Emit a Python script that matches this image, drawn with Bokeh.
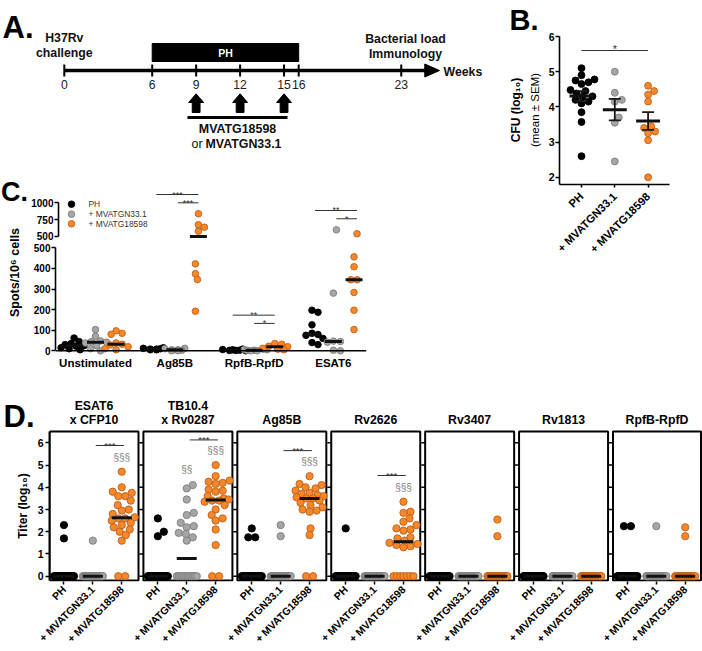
import math
from collections import Counter
import numpy as np
from bokeh.plotting import figure
from bokeh.layouts import row, column
from bokeh.models import Range1d, FixedTicker, LinearAxis, Span
from bokeh.core.properties import value
from bokeh.embed import file_html
from bokeh.resources import INLINE

# ======================= DATA =======================
# Panel A: study timeline (weeks)
weeks = [0, 6, 9, 12, 15, 16, 23]
ph_period = [6, 16]
boost_weeks = [9, 12, 15]

# Panel B: lung CFU (log10)
b_groups = ["PH", "+ MVATGN33.1", "+ MVATG18598"]
b_ph = [5.1, 4.9, 4.78, 4.75, 4.7, 4.65, 4.48, 4.45, 4.38, 4.3, 4.28, 4.2, 4.15, 4.1, 3.85, 3.57, 2.6]
b_gn = [5.0, 4.4, 4.2, 4.15, 3.7, 3.55, 2.45]
b_tg = [4.6, 4.45, 4.35, 4.15, 3.45, 3.4, 3.3, 3.25, 3.05, 2.0]
b_sig = "*"

# Panel C: ELISpot spots / 10^6 cells
c_cats = ["Unstimulated", "Ag85B", "RpfB-RpfD", "ESAT6"]
c_legend = ["PH", "+ MVATGN33.1", "+ MVATG18598"]
c_ph = [[62, 45, 35, 30, 25, 22, 15, 10, 5],
        [15, 12, 10, 8, 8, 5, 5],
        [8, 6, 5, 3, 2, 2, 0],
        [197, 187, 126, 85, 79, 75, 60, 40, 30]]
c_gn = [[103, 70, 48, 45, 42, 38, 25, 10, 0],
        [12, 10, 5, 5, 3, 0, 0],
        [8, 6, 5, 3, 2, 0, 0],
        [599, 280, 47, 45, 42, 3, 0]]
c_tg = [[97, 85, 80, 38, 32, 28, 20, 10, 5],
        [837, 674, 638, 579, 422, 374, 346, 192],
        [35, 32, 22, 20, 12, 8, 5],
        [540, 456, 408, 345, 345, 283, 197, 103]]
c_brackets = [("Ag85B", 0, 2, "***"), ("Ag85B", 1, 2, "***"),
              ("RpfB-RpfD", 0, 2, "**"), ("RpfB-RpfD", 1, 2, "*"),
              ("ESAT6", 0, 2, "**"), ("ESAT6", 1, 2, "*")]
c_bracket_y = [1123, 1000, 173, 133, 886, 763]

# Panel D: antibody titers (log10); detectable values + number of animals at 0
d_titles = [["ESAT6", "x CFP10"], ["TB10.4", "x Rv0287"], ["Ag85B"], ["Rv2626"],
            ["Rv3407"], ["Rv1813"], ["RpfB-RpfD"]]
d_groups = ["PH", "+ MVATGN33.1", "+ MVATG18598"]
d_ph_pos = [[2.3, 1.7], [2.6, 2.0, 1.8], [2.15, 1.75, 1.75], [2.15], [], [], [2.25, 2.25]]
d_ph_zero = [22, 21, 21, 23, 24, 24, 22]
d_gn_pos = [[1.6],
            [4.1, 3.95, 3.45, 2.85, 2.75, 2.4, 2.25, 2.2, 1.95, 1.9, 1.75, 1.6],
            [2.3, 1.8], [], [], [], [2.25]]
d_gn_zero = [23, 12, 22, 24, 24, 24, 23]
d_tg_pos = [[4.7, 4.0, 3.8, 3.75, 3.6, 3.6, 3.4, 3.2, 3.0, 2.95, 2.8, 2.65, 2.6, 2.6, 2.5, 2.4, 2.3, 2.2, 2.1, 2.0, 1.85, 1.6],
            [5.0, 4.5, 4.3, 4.25, 4.2, 4.15, 3.9, 3.85, 3.8, 3.6, 3.5, 3.45, 3.4, 3.4, 3.35, 3.2, 3.0, 2.75, 2.6, 2.5, 2.1, 1.4],
            [4.5, 4.15, 4.1, 4.0, 3.95, 3.85, 3.75, 3.7, 3.65, 3.6, 3.55, 3.5, 3.5, 3.4, 3.3, 3.2, 3.1, 3.0, 2.95, 2.9, 2.15, 1.85],
            [3.35, 2.9, 2.85, 2.6, 2.45, 2.3, 2.15, 2.1, 2.05, 1.75, 1.7, 1.6, 1.5, 1.45, 1.4, 1.35, 1.3],
            [2.55, 1.8], [], [2.2, 1.8]]
d_tg_zero = [2, 2, 2, 7, 22, 24, 22]
d_brackets = [(0, "***", 5.88), (1, "***", 6.13), (2, "***", 5.65), (3, "***", 4.53)]
d_sections = [(0, 2, "§§§", 5.33), (1, 1, "§§", 4.79), (1, 2, "§§§", 5.65),
              (2, 2, "§§§", 5.16), (3, 2, "§§§", 4.0)]

# ======================= HELPERS =======================
FONT = "Liberation Sans"
F = value(FONT)
COL = {"ph": ("#000000", "#000000"), "gn": ("#A6A6A6", "#7E7E7E"), "tg": ("#F5882A", "#C25F18")}
KEYS = ["ph", "gn", "tg"]
SIGC = "#333333"


def new_fig(**kw):
    p = figure(output_backend="svg", toolbar_location=None, **kw)
    p.grid.visible = False
    p.outline_line_color = None
    p.background_fill_color = "white"
    p.border_fill_color = "white"
    try:
        p.frame_align = False
    except Exception:
        pass
    return p


def style_axis(ax, size=10.5):
    ax.axis_line_color = "black"
    ax.axis_line_width = 1.6
    ax.major_tick_line_color = "black"
    ax.major_tick_line_width = 1.5
    ax.minor_tick_line_color = None
    ax.major_tick_out = 4
    ax.major_tick_in = 0
    ax.major_label_text_font = FONT
    ax.major_label_text_font_style = "bold"
    ax.major_label_text_font_size = f"{size}px"
    ax.major_label_text_color = "black"
    ax.major_label_standoff = 2
    ax.axis_label_text_font = FONT
    ax.axis_label_text_font_style = "bold"
    ax.axis_label_text_color = "black"


def txt(p, x, y, s, size, bold=False, align="center", baseline="middle", color="#111111", angle=0.0):
    p.text(x=[x], y=[y], text=[s], text_font=F, text_font_size=f"{size}px",
           text_font_style="bold" if bold else "normal", text_align=align,
           text_baseline=baseline, text_color=color, angle=angle)


def swarm(ypx, d, tie_w, maxw):
    """deterministic beeswarm offsets (pixels) for points at pixel heights ypx"""
    n = len(ypx)
    offs = [0.0] * n
    cnt = Counter(ypx)
    placed = []
    for v, c in cnt.items():
        if c >= 2:
            idx = [i for i in range(n) if ypx[i] == v]
            if c >= 5:
                xs = np.linspace(-tie_w, tie_w, c)
            else:
                xs = [(k - (c - 1) / 2) * d * 0.95 for k in range(c)]
            for i, xo in zip(idx, xs):
                offs[i] = float(xo)
                placed.append((float(xo), v))
    cands = [0.0]
    k = 1
    while k <= maxw:
        cands += [float(k), float(-k)]
        k += 1
    order = sorted([i for i in range(n) if cnt[ypx[i]] < 2], key=lambda i: ypx[i])
    for i in order:
        y = ypx[i]
        choice = None
        for c in cands:
            if all((c - px) ** 2 + (y - py) ** 2 >= (0.92 * d) ** 2 for px, py in placed):
                choice = c
                break
        if choice is None:
            choice = max(cands, key=lambda c: min([(c - px) ** 2 + (y - py) ** 2 for px, py in placed] or [1e9]))
        offs[i] = choice
        placed.append((choice, y))
    return offs


def dots(p, xs, ys, key, size):
    f, l = COL[key]
    return p.scatter(x=xs, y=ys, marker="circle", size=size, fill_color=f, line_color=l, line_width=0.9)


# ======================= PANEL A =======================
A_X0, A_SL = 63.8, 14.65


def wk(xref):
    return (xref - A_X0) / A_SL


pA = new_fig(width=500, height=165, x_range=Range1d(wk(0), wk(500)), y_range=Range1d(165, 0),
             min_border=0, x_axis_location=None, y_axis_location=None)
txt(pA, wk(2), 27, "A.", 31, bold=True, align="left", baseline="alphabetic", color="black")
line_end = wk(425)
pA.segment(x0=[weeks[0]], y0=[70], x1=[line_end], y1=[70], line_width=3.6, line_color="black")
pA.patch(x=[line_end - 0.05, line_end - 0.05, wk(439)], y=[63.5, 76.5, 70], fill_color="black", line_color="black")
pA.segment(x0=weeks, x1=weeks, y0=[64] * len(weeks), y1=[76] * len(weeks), line_width=2, line_color="black")
pA.text(x=weeks, y=[84] * len(weeks), text=[str(w) for w in weeks], text_font=F, text_font_size="12.2px",
        text_align="center", text_baseline="middle", text_color="#222222")
pA.quad(left=[ph_period[0]], right=[ph_period[1]], top=[43], bottom=[61], fill_color="black", line_color="black")
txt(pA, (ph_period[0] + ph_period[1]) / 2, 52.5, "PH", 10.5, bold=True, color="white")
txt(pA, weeks[0], 37, "H37Rv", 12.3, bold=True)
txt(pA, weeks[0], 52, "challenge", 12.3, bold=True)
txt(pA, wk(405), 38, "Bacterial load", 12.3, bold=True)
txt(pA, wk(405), 53, "Immunology", 12.3, bold=True)
txt(pA, wk(443), 71, "Weeks", 12.3, bold=True, align="left")
hh, hs = 7.5 / A_SL, 3.9 / A_SL
pA.patches(xs=[[w - hs, w - hs, w - hh, w, w + hh, w + hs, w + hs] for w in boost_weeks],
           ys=[[112, 102, 102, 93.3, 102, 102, 112] for w in boost_weeks],
           fill_color="black", line_color="black")
pA.segment(x0=[wk(187)], x1=[wk(287)], y0=[117], y1=[117], line_width=3, line_color="black")
txt(pA, wk(237), 128, "MVATG18598", 12.4, bold=True)
txt(pA, wk(191), 143.5, "or", 12.4, align="left")
txt(pA, wk(205), 143.5, "MVATGN33.1", 12.4, bold=True, align="left")

# ======================= PANEL B =======================
B_PX, B_PY = 33.3, 35.2


def bx(xref):
    return (xref - 577.7) / B_PX


def by(yref):
    return 6 - (yref - 36) / B_PY


pB = new_fig(frame_width=110, frame_height=149, min_border_left=56, min_border_right=36,
             min_border_top=35, min_border_bottom=196,
             x_range=Range1d(bx(555.7), bx(665.7)), y_range=Range1d(by(184), by(35)))
pB.title.text = "B."
pB.title.align = "left"
pB.title.offset = -50
pB.title.standoff = 0
pB.title.text_font = FONT
pB.title.text_font_size = "29px"
pB.title.text_font_style = "bold"
pB.title.text_color = "black"

xa = pB.xaxis[0]
style_axis(xa, 11.2)
xa.ticker = FixedTicker(ticks=[0, 1, 2])
xa.major_label_overrides = {i: g for i, g in enumerate(b_groups)}
xa.major_label_orientation = math.pi / 4
xa.major_tick_out = 3
xa.major_label_standoff = 7
ya = pB.yaxis[0]
style_axis(ya, 10.5)
ya.ticker = FixedTicker(ticks=[2, 3, 4, 5, 6])
ya.bounds = (by(184), 6)
ya.major_label_standoff = 1
ya.axis_label = "(mean ± SEM)"
ya.axis_label_text_font_style = "normal"
ya.axis_label_text_font_size = "11.5px"
ya.axis_label_standoff = 5
ya2 = LinearAxis(ticker=FixedTicker(ticks=[]), axis_label="CFU (log₁₀)")
style_axis(ya2, 10.5)
ya2.axis_line_color = None
ya2.major_tick_line_color = None
ya2.major_label_standoff = 0
ya2.axis_label_text_font_size = "12px"
ya2.axis_label_standoff = 3
pB.add_layout(ya2, "left")

for gi, (vals, key) in enumerate(zip([b_ph, b_gn, b_tg], KEYS)):
    ypx = [v * B_PY for v in vals]
    offs = swarm(ypx, 6.9, 8, 15)
    xs = [gi + o / B_PX for o in offs]
    dots(pB, xs, vals, key, 6.9)
    m = float(np.mean(vals))
    sem = float(np.std(vals, ddof=1) / math.sqrt(len(vals)))
    pB.segment(x0=[gi, gi - 0.18, gi - 0.18], x1=[gi, gi + 0.18, gi + 0.18],
               y0=[m - sem, m - sem, m + sem], y1=[m + sem, m - sem, m + sem],
               line_width=1.8, line_color="#1a1a1a")
    pB.segment(x0=[gi - 0.36], x1=[gi + 0.36], y0=[m], y1=[m], line_width=3, line_color="#111111")
pB.segment(x0=[0], x1=[2], y0=[by(50)], y1=[by(50)], line_width=1, line_color=SIGC)
txt(pB, 1, by(48.5), b_sig, 11, baseline="alphabetic", color=SIGC)

# ======================= PANEL C =======================
C_PX = 79.3
LOW_PPU = 0.206
UP_UPP = 14.84
c_off = [-0.27, 0.0, 0.26]


def cx(xref):
    return (xref - 95) / C_PX


def cy_low(yref):
    return (350.3 - yref) / LOW_PPU


def cy_up(yref):
    return 1000 + (202.3 - yref) * UP_UPP


def c_ref_y(v):
    return 350.3 - v * LOW_PPU if v <= 500 else 236.0 - (v - 500) / UP_UPP


# side strip with panel letter and the y-axis title
pCs = new_fig(width=28, height=215, x_range=Range1d(0, 28), y_range=Range1d(-380, -165),
              min_border=0, x_axis_location=None, y_axis_location=None)
txt(pCs, 0.5, -191.7, "C.", 27, bold=True, align="left", baseline="alphabetic", color="black")
txt(pCs, 14, -272, "Spots/10⁶ cells", 12.5, bold=True, color="black", angle=math.pi / 2)

pCt = new_fig(frame_width=311, frame_height=59, min_border_left=27, min_border_right=134,
              min_border_top=15, min_border_bottom=2,
              x_range=Range1d(cx(55), cx(366)), y_range=Range1d(cy_up(239), cy_up(180)),
              x_axis_location=None)
pCb = new_fig(frame_width=311, frame_height=108, min_border_left=27, min_border_right=134,
              min_border_top=6, min_border_bottom=25,
              x_range=Range1d(cx(55), cx(366)), y_range=Range1d(cy_low(355), cy_low(247)))

yt = pCt.yaxis[0]
style_axis(yt, 10)
yt.ticker = FixedTicker(ticks=[500, 750, 1000])
yt.bounds = (500, 1000)
yt.major_label_standoff = 1
yb = pCb.yaxis[0]
style_axis(yb, 10)
yb.ticker = FixedTicker(ticks=[0, 100, 200, 300, 400, 500])
yb.bounds = (0, 500)
yb.major_label_standoff = 1
xb = pCb.xaxis[0]
style_axis(xb, 11.5)
xb.ticker = FixedTicker(ticks=list(range(len(c_cats))))
xb.major_label_overrides = {i: c for i, c in enumerate(c_cats)}
xb.axis_line_color = None
xb.major_tick_line_color = None
xb.major_tick_out = 0
xb.major_label_standoff = 1
pCb.add_layout(Span(location=0, dimension="width", line_color="black", line_width=1.6))

up_pts = {k: ([], []) for k in KEYS}
low_pts = {k: ([], []) for k in KEYS}
medians = []
for ci in range(len(c_cats)):
    for gi, (data, key) in enumerate(zip([c_ph, c_gn, c_tg], KEYS)):
        vals = data[ci]
        ypx = [c_ref_y(v) for v in vals]
        offs = swarm(ypx, 6.6, 8, 13)
        for v, o in zip(vals, offs):
            tgt = up_pts if v > 500 else low_pts
            tgt[key][0].append(ci + c_off[gi] + o / C_PX)
            tgt[key][1].append(v)
        medians.append((ci + c_off[gi], float(np.median(vals))))

for key in KEYS:
    dots(pCb, low_pts[key][0], low_pts[key][1], key, 6.6)
    dots(pCt, up_pts[key][0], up_pts[key][1], key, 6.6)
for xm, m in medians:
    p = pCt if m > 500 else pCb
    p.segment(x0=[xm - 0.107], x1=[xm + 0.107], y0=[m], y1=[m], line_width=3, line_color="#111111")

for (cat, a, b, s), yv in zip(c_brackets, c_bracket_y):
    ci = c_cats.index(cat)
    p = pCt if yv > 500 else pCb
    x0, x1 = ci + c_off[a], ci + c_off[b]
    p.segment(x0=[x0], x1=[x1], y0=[yv], y1=[yv], line_width=1, line_color=SIGC)
    txt(p, (x0 + x1) / 2, yv, s, 9, baseline="alphabetic", color=SIGC)

# legend (inside the upper segment)
for key, lab, yref in zip(KEYS, c_legend, [203.7, 213.7, 223.3]):
    dots(pCt, [cx(68)], [cy_up(yref)], key, 6.6)
    txt(pCt, cx(85), cy_up(yref), lab, 8.4, align="left", color="#333333")

# ======================= PANEL D =======================
D_PY = 22.23
U = 89 / 61.6          # px per x-unit
PSTEP = 65             # x-units between panels
GSTEP = 20             # x-units between groups


def dy(yref):
    return (575.7 - yref) / D_PY


def dxp(i, g):
    return PSTEP * i + GSTEP * g


box_left = [PSTEP * i - 10 for i in range(len(d_titles))]
box_w = [61.6] * (len(d_titles) - 1) + [88 / U]

pDs = new_fig(frame_width=34, frame_height=191, min_border_left=0, min_border_right=0,
              min_border_top=10, min_border_bottom=69,
              x_range=Range1d(0, 34), y_range=Range1d(-581, -390),
              x_axis_location=None, y_axis_location=None)
txt(pDs, 3, -415.5, "D.", 31, bold=True, align="left", baseline="alphabetic", color="black")
txt(pDs, 22.5, -505.5, "Titer (log₁₀)", 12, bold=True, color="black", angle=math.pi / 2)

pD = new_fig(frame_width=653, frame_height=191, min_border_left=14, min_border_right=0,
             min_border_top=10, min_border_bottom=69,
             x_range=Range1d(-10, -10 + 653 / U), y_range=Range1d(dy(581), dy(390)))
ya = pD.yaxis[0]
style_axis(ya, 10.5)
ya.ticker = FixedTicker(ticks=[0, 1, 2, 3, 4, 5, 6])
ya.axis_line_width = 2
ya.bounds = (dy(580), dy(431))
xa = pD.xaxis[0]
style_axis(xa, 10.5)
ticks, labels = [], {}
for i in range(len(d_titles)):
    for g in range(3):
        ticks.append(dxp(i, g))
        labels[dxp(i, g)] = d_groups[g]
xa.ticker = FixedTicker(ticks=ticks)
xa.major_label_overrides = labels
xa.major_label_orientation = math.pi / 4
xa.axis_line_color = None
xa.major_tick_out = 3
xa.major_label_standoff = 3

# panel boxes and their y ticks
pD.quad(left=box_left, right=[l + w for l, w in zip(box_left, box_w)],
        bottom=[dy(580)] * len(box_left), top=[dy(431)] * len(box_left),
        fill_color=None, line_color="black", line_width=2)
for i in range(1, len(d_titles)):
    bl = box_left[i]
    pD.segment(x0=[bl - 4 / U] * 7, x1=[bl] * 7, y0=list(range(7)), y1=list(range(7)),
               line_width=1.5, line_color="black")

for i in range(len(d_titles)):
    groups = [(d_ph_pos[i], d_ph_zero[i], "ph"), (d_gn_pos[i], d_gn_zero[i], "gn"),
              (d_tg_pos[i], d_tg_zero[i], "tg")]
    for g, (pos, nz, key) in enumerate(groups):
        vals = list(pos) + [0.0] * nz
        ypx = [v * D_PY for v in vals]
        offs = swarm(ypx, 7.3, 10, 14)
        xs = [dxp(i, g) + o / U for o in offs]
        dots(pD, xs, vals, key, 7.3)
        med = float(np.median(vals))
        pD.segment(x0=[dxp(i, g) - 10 / U], x1=[dxp(i, g) + 10 / U], y0=[med], y1=[med],
                   line_width=3, line_color="#111111")
    cxm = box_left[i] + box_w[i] / 2
    lines = d_titles[i]
    ys = [dy(419)] if len(lines) == 1 else [dy(405), dy(419)]
    for t, yy in zip(lines, ys):
        txt(pD, cxm, yy, t, 12.3, bold=True, color="black")

for i, s, yv in d_brackets:
    x0, x1 = dxp(i, 1.1), dxp(i, 2.08)
    pD.segment(x0=[x0], x1=[x1], y0=[yv], y1=[yv], line_width=1, line_color=SIGC)
    txt(pD, (x0 + x1) / 2, yv, s, 9.5, baseline="alphabetic", color=SIGC)
for i, g, s, yv in d_sections:
    txt(pD, dxp(i, g), yv, s, 10, color="#808080")

layout = column(
    row(column(pA, row(pCs, column(pCt, pCb))), pB),
    row(pDs, pD),
)
open("out.html", "w").write(file_html(layout, INLINE))
